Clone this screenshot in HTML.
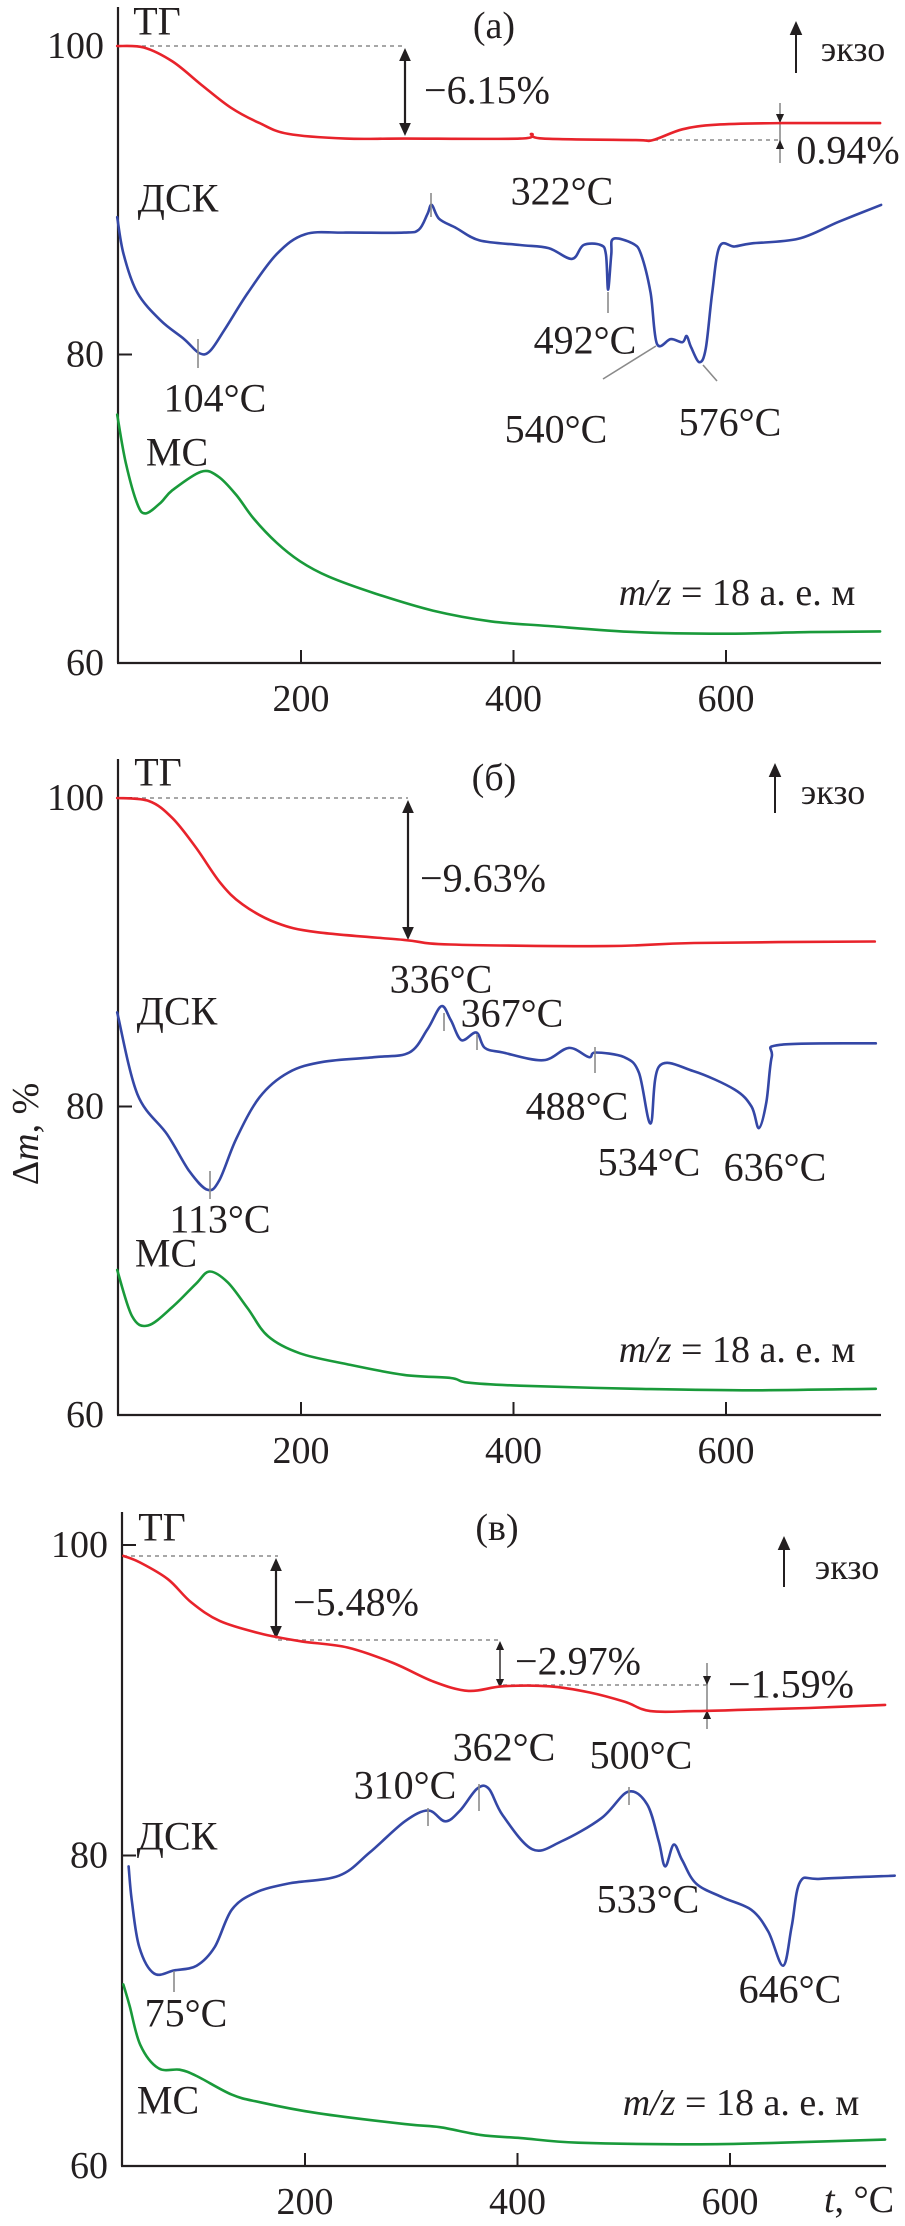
<!DOCTYPE html>
<html><head><meta charset="utf-8"><title>ТГ/ДСК/МС</title>
<style>
html,body{margin:0;padding:0;background:#fff;}
svg{display:block;font-family:"Liberation Serif","DejaVu Serif",serif;}
</style></head>
<body>
<svg id="chart" width="905" height="2226" viewBox="0 0 905 2226" xmlns="http://www.w3.org/2000/svg"></svg>
<script>
// ---------- data ----------
const xTicks = [200, 400, 600];
const yTicks = [60, 80, 100];
const yTickLabels = ["60", "80", "100"];

// panel (a)
const tgA_T = [27,52,79,106,134,161,188,242,297,406,417,428,515,531,559,591,651,745];
const tgA_v = [100,99.9,99.0,97.5,96.0,95.0,94.3,94.0,94.0,94.0,94.3,94.0,93.9,93.9,94.6,94.9,95.0,95.0];
const dscA_T = [27,33,46,68,90,104,114,128,150,177,204,242,297,311,319,323,330,346,368,406,433,455,466,482,487,489,492,494,512,520,529,535,548,559,563,567,575,581,587,594,608,624,668,706,746];
const dscA_v = [88.9,86.5,84.0,82.2,81.0,80.1,80.2,81.6,84.0,86.5,87.8,87.9,87.9,88.1,89.1,89.7,88.8,88.2,87.4,87.1,86.9,86.2,87.1,87.1,86.5,84.2,86.5,87.5,87.2,86.5,84.0,80.7,81.0,80.8,81.2,80.5,79.5,80.4,84.0,87.0,87.0,87.2,87.5,88.6,89.7];
const msA_T = [27,35,46,54,68,79,106,122,139,155,177,199,226,270,324,379,433,515,597,679,745];
const msA_v = [76.1,73.0,70.3,69.7,70.4,71.2,72.4,72.1,70.9,69.4,67.8,66.6,65.6,64.5,63.4,62.7,62.4,62.0,61.9,62.0,62.05];

// panel (б)
const tgB_T = [27,57,79,101,124,145,177,215,297,341,488,570,740];
const tgB_v = [100,99.8,98.7,96.8,94.5,93.1,91.9,91.3,90.8,90.5,90.4,90.6,90.7];
const dscB_T = [27,46,74,95,112,123,139,161,188,221,270,302,319,332,341,351,365,373,390,428,452,471,477,504,518,529,537,569,608,624,631,638,643,651,741];
const dscB_v = [86.1,80.8,78.2,75.8,74.6,75.2,77.9,80.6,82.2,82.9,83.2,83.5,85.0,86.5,85.6,84.3,84.8,83.8,83.5,83.0,83.8,83.2,83.5,83.2,82.2,78.9,82.6,82.3,81.1,80.0,78.6,80.3,83.2,84.0,84.1];
const msB_T = [27,41,56,79,101,114,131,150,169,199,243,297,341,357,406,515,624,741];
const msB_v = [69.4,66.4,65.8,67.0,68.5,69.3,68.6,66.9,65.1,64.0,63.3,62.6,62.4,62.1,61.9,61.7,61.6,61.7];

// panel (в)
const tgC_T = [29,44,71,93,120,158,196,240,283,321,354,386,430,468,501,525,566,620,674,746];
const tgC_v = [99.3,98.9,97.8,96.3,95.1,94.3,93.8,93.4,92.4,91.2,90.6,90.9,90.9,90.5,89.9,89.3,89.3,89.4,89.5,89.7];
const dscC_T = [34,37,44,58,77,98,115,131,153,185,232,261,294,316,332,346,362,373,386,414,441,479,504,522,533,539,547,555,568,593,620,636,650,658,666,685,755];
const dscC_v = [79.3,77.1,74.1,72.4,72.6,72.9,74.1,76.5,77.6,78.2,78.7,80.2,82.2,82.9,82.2,82.9,84.3,84.3,82.6,80.4,80.9,82.4,84.1,83.3,80.9,79.3,80.7,79.7,78.2,77.3,76.5,75.1,72.9,75.4,78.3,78.5,78.7];
const msC_T = [29,35,45,62,82,98,131,158,212,294,327,365,403,457,566,648,746];
const msC_v = [71.7,70.3,67.8,66.3,66.2,65.8,64.6,64.1,63.4,62.7,62.5,62.0,61.8,61.5,61.4,61.5,61.7];

// ---------- drawing ----------
const NS = "http://www.w3.org/2000/svg";
const svg = document.getElementById("chart");
const RED = "#e8232b", BLUE = "#3447a6", GREEN = "#199a3a", INK = "#231f20", GRAY = "#8a8a8a";

function mk(tag, attrs, parent) {
  const e = document.createElementNS(NS, tag);
  for (const k in attrs) e.setAttribute(k, attrs[k]);
  (parent || svg).appendChild(e);
  return e;
}
function makeAxes(p) {
  p.x = T => p.x200 + (T - 200) * 1.0625;
  p.y = v => p.y100 + (100 - v) * (p.y60 - p.y100) / 40;
  return p;
}
function txt(g, s, x, y, size, name, anchor, italic) {
  const t = mk("text", {x: x, y: y, "font-size": size, fill: INK, "text-anchor": anchor || "middle", "dominant-baseline": "central"}, g);
  if (italic) t.setAttribute("font-style", "italic");
  
  
  t.textContent = s;
  return t;
}
function mzLabel(g, x, y, name) {
  const t = txt(g, "", x, y, 38, name);
  const a = mk("tspan", {"font-style": "italic"}, t); a.textContent = "m/z";
  const b = mk("tspan", {}, t); b.textContent = " = 18 а. е. м";
}
function line(g, x1, y1, x2, y2, color, w, name, dash) {
  const l = mk("line", {x1: x1, y1: y1, x2: x2, y2: y2, stroke: color, "stroke-width": w}, g);
  if (dash) l.setAttribute("stroke-dasharray", dash);
  
  
  return l;
}
function series(g, p, Ts, vs, color, name) {
  const pts = Ts.map((T, i) => [p.x(T), p.y(vs[i])]);
  let d = "M" + pts[0][0].toFixed(1) + "," + pts[0][1].toFixed(1);
  for (let i = 0; i < pts.length - 1; i++) {
    const p0 = pts[i - 1] || pts[i], p1 = pts[i], p2 = pts[i + 1], p3 = pts[i + 2] || p2;
    const c1 = [p1[0] + (p2[0] - p0[0]) / 6, p1[1] + (p2[1] - p0[1]) / 6];
    const c2 = [p2[0] - (p3[0] - p1[0]) / 6, p2[1] - (p3[1] - p1[1]) / 6];
    d += " C" + c1[0].toFixed(1) + "," + c1[1].toFixed(1) + " " + c2[0].toFixed(1) + "," + c2[1].toFixed(1) + " " + p2[0].toFixed(1) + "," + p2[1].toFixed(1);
  }
  const path = mk("path", {d: d, fill: "none", stroke: color, "stroke-width": 2.6, "stroke-linejoin": "round", "stroke-linecap": "round"}, g);
  
  
}
function arrowHead(g, x, y, dir, size, color) {
  const s = size;
  const pts = dir < 0 ? [[x, y], [x - s * 0.45, y + s], [x + s * 0.45, y + s]] : [[x, y], [x - s * 0.45, y - s], [x + s * 0.45, y - s]];
  const a = mk("polygon", {points: pts.map(q => q.join(",")).join(" "), fill: color}, g);
  
  
}
function dblArrow(g, x, y1, y2, name) {
  line(g, x, y1 + 10, x, y2 - 10, INK, 2.2, name);
  arrowHead(g, x, y1, -1, 13, INK);
  arrowHead(g, x, y2, 1, 13, INK);
}
function frame(g, p, name) {
  line(g, p.left, p.top, p.left, p.y60, INK, 2.2, name + "-y-axis");
  line(g, p.left - 1, p.y60, p.right, p.y60, INK, 2.2, name + "-x-axis");
  xTicks.forEach(T => {
    line(g, p.x(T), p.y60, p.x(T), p.y60 - 13, INK, 2, name + "-x-tick");
    txt(g, String(T), p.x(T), p.y60 + 36, 38, name + "-x-tick-label");
  });
  yTicks.forEach((v, i) => {
    if (v !== 60) line(g, p.left, p.y(v), p.left + 14, p.y(v), INK, 2, name + "-y-tick");
    txt(g, yTickLabels[i], p.left - 14, p.y(v), 38, name + "-y-tick-label", "end");
  });
}
function marker(g, x, y1, y2) { line(g, x, y1, x, y2, GRAY, 1.6, "peak-marker"); }
function exo(g, ax, ay1, ay2, tx, ty) {
  line(g, ax, ay1, ax, ay2 + 10, INK, 2, "exo-arrow");
  arrowHead(g, ax, ay2, -1, 14, INK);
  txt(g, "экзо", tx, ty, 36, "exo-label");
}
function group(name) {
  const g = mk("g", {});
  
  
  return g;
}

// ---- Panel (a)
const A = makeAxes({x200: 301, y100: 46, y60: 663, left: 118, right: 881, top: 7});
const gA = group("panel-a");
frame(gA, A, "panel-a");
line(gA, 118, 46, 405, 46, GRAY, 1.6, "tg-baseline-a", "4,4");
dblArrow(gA, 405, 48, 136, "mass-loss-arrow-a");
txt(gA, "−6.15%", 487, 90, 40, "mass-loss-label-a");
line(gA, 630, 140, 780, 140, GRAY, 1.6, "tg-baseline-a2", "4,4");
line(gA, 780, 103, 780, 163, GRAY, 1.6, "mass-gain-line-a");
arrowHead(gA, 780, 123, 1, 9, INK);
arrowHead(gA, 780, 140, -1, 9, INK);
txt(gA, "0.94%", 848, 150, 40, "mass-gain-label-a");
series(gA, A, tgA_T, tgA_v, RED, "tg-curve-a");
series(gA, A, dscA_T, dscA_v, BLUE, "dsc-curve-a");
series(gA, A, msA_T, msA_v, GREEN, "ms-curve-a");
txt(gA, "ТГ", 157, 21, 40, "tg-label-a");
txt(gA, "(a)", 494, 26, 38, "panel-a-title");
exo(gA, 796, 73, 21, 853, 49);
txt(gA, "ДСК", 178, 198, 40, "dsc-label-a");
txt(gA, "МС", 177, 452, 40, "ms-label-a");
mzLabel(gA, 737, 593, "mz-label-a");
marker(gA, 198, 339, 368); txt(gA, "104°C", 215, 398, 40, "peak-104");
marker(gA, 431, 193, 217); txt(gA, "322°C", 562, 191, 40, "peak-322");
marker(gA, 608, 292, 313); txt(gA, "492°C", 585, 340, 40, "peak-492");
line(gA, 656, 346, 603, 379, GRAY, 1.6, "leader-540"); txt(gA, "540°C", 556, 429, 40, "peak-540");
line(gA, 703, 365, 717, 381, GRAY, 1.6, "leader-576"); txt(gA, "576°C", 730, 422, 40, "peak-576");

// ---- Panel (б)
const B = makeAxes({x200: 301, y100: 798, y60: 1415, left: 118, right: 881, top: 759});
const gB = group("panel-b");
frame(gB, B, "panel-b");
line(gB, 118, 798, 408, 798, GRAY, 1.6, "tg-baseline-b", "4,4");
dblArrow(gB, 408, 800, 940, "mass-loss-arrow-b");
txt(gB, "−9.63%", 483, 878, 40, "mass-loss-label-b");
series(gB, B, tgB_T, tgB_v, RED, "tg-curve-b");
series(gB, B, dscB_T, dscB_v, BLUE, "dsc-curve-b");
series(gB, B, msB_T, msB_v, GREEN, "ms-curve-b");
txt(gB, "ТГ", 158, 772, 40, "tg-label-b");
txt(gB, "(б)", 494, 778, 38, "panel-b-title");
exo(gB, 775, 813, 763, 833, 792);
txt(gB, "ДСК", 177, 1011, 40, "dsc-label-b");
txt(gB, "МС", 166, 1253, 40, "ms-label-b");
mzLabel(gB, 737, 1350, "mz-label-b");
marker(gB, 210, 1171, 1199); txt(gB, "113°C", 220, 1219, 40, "peak-113");
marker(gB, 444, 1013, 1031); txt(gB, "336°C", 441, 979, 40, "peak-336");
marker(gB, 477, 1034, 1050); txt(gB, "367°C", 512, 1013, 40, "peak-367");
marker(gB, 595, 1047, 1073); txt(gB, "488°C", 577, 1106, 40, "peak-488");
txt(gB, "534°C", 649, 1162, 40, "peak-534");
txt(gB, "636°C", 775, 1167, 40, "peak-636");
const yl = txt(gB, "", 26, 1134, 38, "y-axis-title");
yl.setAttribute("transform", "rotate(-90 26 1134)");
const t1 = mk("tspan", {}, yl); t1.textContent = "Δ";
const t2 = mk("tspan", {"font-style": "italic"}, yl); t2.textContent = "m";
const t3 = mk("tspan", {}, yl); t3.textContent = ", %";

// ---- Panel (в)
const C = makeAxes({x200: 305, y100: 1545, y60: 2166, left: 122, right: 886, top: 1512});
const gC = group("panel-c");
frame(gC, C, "panel-c");
line(gC, 123, 1556, 278, 1556, GRAY, 1.6, "tg-baseline-c1", "4,4");
dblArrow(gC, 276, 1558, 1639, "mass-loss-arrow-c1");
txt(gC, "−5.48%", 356, 1602, 40, "mass-loss-label-c1");
line(gC, 278, 1640, 500, 1640, GRAY, 1.6, "tg-baseline-c2", "4,4");
line(gC, 500, 1648, 500, 1680, INK, 1.4, "mass-loss-line-c2");
arrowHead(gC, 500, 1641, -1, 9, INK); arrowHead(gC, 500, 1688, 1, 9, INK);
txt(gC, "−2.97%", 578, 1661, 40, "mass-loss-label-c2");
line(gC, 503, 1685, 707, 1685, GRAY, 1.6, "tg-baseline-c3", "4,4");
line(gC, 707, 1663, 707, 1729, GRAY, 1.6, "mass-loss-line-c3");
arrowHead(gC, 707, 1685, 1, 9, INK); arrowHead(gC, 707, 1710, -1, 9, INK);
txt(gC, "−1.59%", 791, 1684, 40, "mass-loss-label-c3");
series(gC, C, tgC_T, tgC_v, RED, "tg-curve-c");
series(gC, C, dscC_T, dscC_v, BLUE, "dsc-curve-c");
series(gC, C, msC_T, msC_v, GREEN, "ms-curve-c");
txt(gC, "ТГ", 162, 1527, 40, "tg-label-c");
txt(gC, "(в)", 497, 1528, 38, "panel-c-title");
exo(gC, 784, 1587, 1536, 847, 1567);
txt(gC, "ДСК", 177, 1836, 40, "dsc-label-c");
txt(gC, "МС", 168, 2100, 40, "ms-label-c");
mzLabel(gC, 741, 2103, "mz-label-c");
marker(gC, 174, 1971, 1992); txt(gC, "75°C", 186, 2013, 40, "peak-75");
marker(gC, 428, 1808, 1826); txt(gC, "310°C", 405, 1785, 40, "peak-310");
marker(gC, 479, 1784, 1811); txt(gC, "362°C", 504, 1747, 40, "peak-362");
marker(gC, 629, 1787, 1805); txt(gC, "500°C", 641, 1755, 40, "peak-500");
txt(gC, "533°C", 648, 1899, 40, "peak-533");
txt(gC, "646°C", 790, 1989, 40, "peak-646");
const xt = txt(gC, "", 859, 2200, 38, "x-axis-title");
const x1 = mk("tspan", {"font-style": "italic"}, xt); x1.textContent = "t";
const x2 = mk("tspan", {}, xt); x2.textContent = ", °C";
</script>
</body></html>
